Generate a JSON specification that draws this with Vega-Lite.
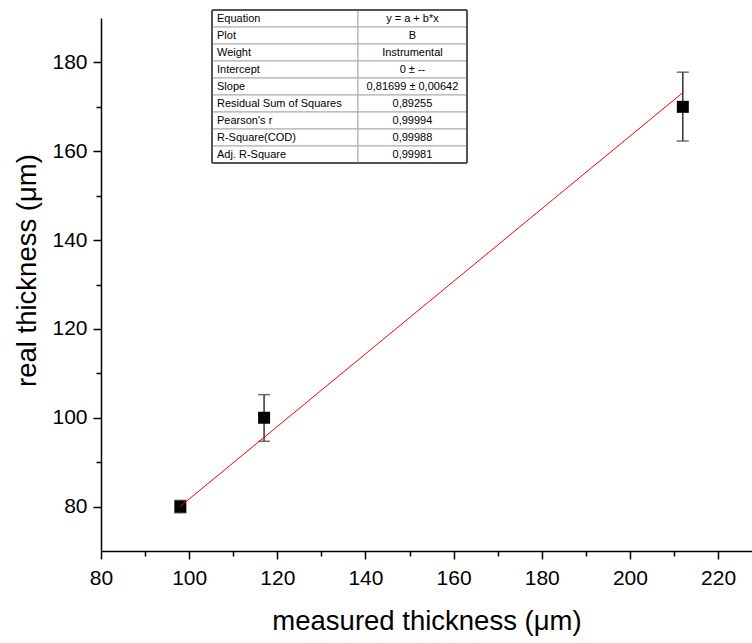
{
  "$schema": "https://vega.github.io/schema/vega-lite/v6.json",
  "width": 651,
  "height": 533,
  "autosize": {"type": "none"},
  "padding": {"left": 101, "top": 18, "right": 0, "bottom": 92},
  "background": "white",
  "config": {
    "view": {"stroke": null},
    "font": "Liberation Sans",
    "axis": {
      "domainColor": "black",
      "domainWidth": 1.5,
      "tickColor": "black",
      "tickWidth": 1.5,
      "labelColor": "black",
      "labelFont": "Liberation Sans",
      "labelFontSize": 21,
      "labelFlush": false,
      "labelOverlap": false,
      "titleFont": "Liberation Sans",
      "titleFontWeight": "normal",
      "titleColor": "black",
      "grid": false
    }
  },
  "datasets": {
    "pts": [
      {"measured": 98, "real": 80, "lo": 78.6, "hi": 81.4},
      {"measured": 117, "real": 100, "lo": 94.7, "hi": 105.2},
      {"measured": 212, "real": 170, "lo": 162.3, "hi": 177.8}
    ],
    "fit": [
      {"measured": 98, "real": 80.06},
      {"measured": 212.2, "real": 173.36}
    ],
    "table": [
      {"name": "Equation", "value": "y = a + b*x"},
      {"name": "Plot", "value": "B"},
      {"name": "Weight", "value": "Instrumental"},
      {"name": "Intercept", "value": "0 ± --"},
      {"name": "Slope", "value": "0,81699 ± 0,00642"},
      {"name": "Residual Sum of Squares", "value": "0,89255"},
      {"name": "Pearson's r", "value": "0,99994"},
      {"name": "R-Square(COD)", "value": "0,99988"},
      {"name": "Adj. R-Square", "value": "0,99981"}
    ]
  },
  "layer": [
    {
      "layer": [
        {
          "data": {"name": "pts"},
          "mark": {"type": "errorbar", "ticks": {"size": 12}, "thickness": 1.5, "color": "#333"},
          "encoding": {
            "x": {"field": "measured", "type": "quantitative", "scale": {"domain": [80, 227.7], "nice": false, "zero": false},
              "axis": {"orient": "bottom", "values": [80, 100, 120, 140, 160, 180, 200, 220], "tickSize": 8, "labelPadding": 8,
                "title": "measured thickness (μm)", "titleFontSize": 27.5, "titlePadding": 19}},
            "y": {"field": "lo", "type": "quantitative", "scale": {"domain": [70, 190], "nice": false, "zero": false},
              "axis": {"orient": "left", "values": [80, 100, 120, 140, 160, 180], "tickSize": 8, "labelPadding": 6,
                "title": "real thickness (μm)", "titleFontSize": 27.5, "titlePadding": 10, "titleY": 252}},
            "y2": {"field": "hi"}
          }
        },
        {
          "data": {"name": "pts"},
          "mark": {"type": "square", "size": 144, "color": "black", "opacity": 1, "filled": true},
          "encoding": {
            "x": {"field": "measured", "type": "quantitative", "axis": null},
            "y": {"field": "real", "type": "quantitative", "axis": null}
          }
        },
        {
          "data": {"name": "fit"},
          "mark": {"type": "line", "color": "#ff0000", "strokeWidth": 1},
          "encoding": {
            "x": {"field": "measured", "type": "quantitative",
              "axis": {"orient": "bottom", "values": [90, 110, 130, 150, 170, 190, 210], "tickSize": 5, "labels": false, "domain": false, "title": null}},
            "y": {"field": "real", "type": "quantitative",
              "axis": {"orient": "left", "values": [90, 110, 130, 150, 170], "tickSize": 5, "labels": false, "domain": false, "title": null}}
          }
        }
      ],
      "resolve": {"axis": {"x": "independent", "y": "independent"}}
    },
    {
      "data": {"name": "table"},
      "layer": [
        {
          "mark": {"type": "rect", "fill": "white", "stroke": "#aaa", "strokeWidth": 1},
          "encoding": {
            "x": {"datum": 0, "type": "quantitative", "scale": {"domain": [0, 1], "range": [111, 366], "nice": false, "zero": false}, "axis": null},
            "x2": {"datum": 0.5725},
            "y": {"field": "name", "type": "nominal", "sort": null, "scale": {"type": "band", "range": [-8, 145], "paddingInner": 0, "paddingOuter": 0}, "axis": null}
          }
        },
        {
          "mark": {"type": "rect", "fill": "white", "stroke": "#aaa", "strokeWidth": 1},
          "encoding": {
            "x": {"datum": 0.5725, "type": "quantitative"},
            "x2": {"datum": 1},
            "y": {"field": "name", "type": "nominal", "sort": null}
          }
        },
        {
          "mark": {"type": "rect", "fill": null, "fillOpacity": 0, "stroke": "#555", "strokeWidth": 1},
          "encoding": {
            "x": {"datum": 0, "type": "quantitative"},
            "x2": {"datum": 1},
            "y": {"datum": "Equation", "type": "nominal", "bandPosition": 0},
            "y2": {"datum": "Adj. R-Square", "bandPosition": 1}
          }
        },
        {
          "mark": {"type": "text", "align": "left", "baseline": "middle", "dx": 5, "fontSize": 11, "color": "black", "font": "Liberation Sans"},
          "encoding": {
            "x": {"datum": 0, "type": "quantitative"},
            "y": {"field": "name", "type": "nominal", "sort": null},
            "text": {"field": "name"}
          }
        },
        {
          "mark": {"type": "text", "align": "center", "baseline": "middle", "fontSize": 11, "color": "black", "font": "Liberation Sans"},
          "encoding": {
            "x": {"datum": 0.786, "type": "quantitative"},
            "y": {"field": "name", "type": "nominal", "sort": null},
            "text": {"field": "value"}
          }
        }
      ]
    }
  ],
  "resolve": {"scale": {"x": "independent", "y": "independent"}}
}
